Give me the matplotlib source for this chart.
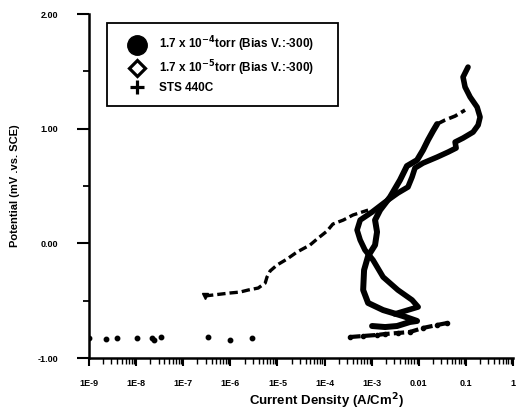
import matplotlib
matplotlib.use("Agg")
import matplotlib.pyplot as plt
from matplotlib.lines import Line2D
from matplotlib.ticker import FixedLocator, NullFormatter

plt.rcParams['font.family'] = ['Liberation Sans', 'DejaVu Sans']
plt.rcParams['font.weight'] = 'bold'

# ---- data: current density (A/cm^2) vs potential ----
# 1.7e-4 torr (Bias V.: -300)
a_cur = [1.02e-3, 1.93e-3, 3.46e-3, 6.5e-3, 9.2e-3, 4.6e-3, 1.75e-3, 8.4e-4, 6.6e-4, 6.9e-4,
         8.4e-4, 1.18e-3, 1.30e-3, 1.18e-3, 1.51e-3, 2.46e-3, 4.0e-3, 5.6e-3, 9.2e-3, 1.23e-2,
         1.57e-2, 2.0e-2, 2.45e-2, 3.6e-2, 5.9e-2, 9.6e-2]
a_pot = [-0.721, -0.730, -0.721, -0.686, -0.677, -0.634, -0.582, -0.520, -0.407, -0.233,
         -0.111, -0.015, 0.099, 0.203, 0.290, 0.404, 0.552, 0.674, 0.726, 0.813,
         0.901, 0.979, 1.040, 1.075, 1.110, 1.162]

# 1.7e-5 torr (Bias V.: -300)
b_cur = [3.1e-3, 9.7e-3, 7.2e-3, 3.6e-3, 1.75e-3, 1.07e-3, 7.2e-4, 5.7e-4, 4.9e-4, 5.7e-4,
         1.02e-3, 1.93e-3, 3.6e-3, 5.9e-3, 7.2e-3, 8.3e-3, 1.23e-2, 2.45e-2, 4.2e-2, 6.2e-2,
         5.9e-2, 8.7e-2, 0.142, 0.182, 0.200, 0.173, 0.123, 9.6e-2, 8.7e-2, 0.111]
b_pot = [-0.616, -0.555, -0.494, -0.407, -0.294, -0.146, -0.058, 0.029, 0.116, 0.203,
         0.273, 0.360, 0.439, 0.491, 0.578, 0.657, 0.700, 0.752, 0.796, 0.831,
         0.883, 0.918, 0.970, 1.031, 1.101, 1.188, 1.276, 1.363, 1.450, 1.537]

# STS 440C
sts_cur = [2.9e-7, 9.9e-7, 1.6e-6, 2.4e-6, 3.9e-6, 5.5e-6, 6.0e-6, 7.0e-6, 9.8e-6, 1.6e-5,
           2.6e-5, 4.9e-5, 6.9e-5, 1.13e-4, 1.5e-4, 2.5e-4, 4.0e-4, 8.4e-4]
sts_pot = [-0.459, -0.433, -0.425, -0.407, -0.390, -0.346, -0.294, -0.241, -0.189, -0.137,
           -0.076, -0.015, 0.037, 0.107, 0.168, 0.203, 0.247, 0.290]

# low-potential points (scattered row)
low_cur = [1.0e-9, 2.3e-9, 3.9e-9, 1.05e-8, 2.2e-8, 2.4e-8, 3.4e-8, 3.4e-7, 9.8e-7, 2.9e-6]
low_pot = [-0.826, -0.834, -0.826, -0.826, -0.826, -0.843, -0.817, -0.817, -0.843, -0.826]
low2_cur = [3.5e-4, 6.6e-4, 1.3e-3, 1.9e-3, 3.6e-3, 6.5e-3, 1.23e-2, 2.45e-2, 4.0e-2]
low2_pot = [-0.817, -0.808, -0.799, -0.791, -0.782, -0.773, -0.738, -0.712, -0.695]

x_ticks = [1e-9, 1e-8, 1e-7, 1e-6, 1e-5, 1e-4, 1e-3, 1e-2, 1e-1, 1]
x_labels = ['1E-9', '1E-8', '1E-7', '1E-6', '1E-5', '1E-4', '1E-3', '0.01', '0.1', '1']
y_ticks = [2.0, 1.0, 0.0, -1.0]
y_labels = ['2.00', '1.00', '0.00', '-1.00']
y_minor = [1.5, 0.5, -0.5]

legend_labels = ['1.7 x 10$^{-4}$torr (Bias V.:-300)',
                 '1.7 x 10$^{-5}$torr (Bias V.:-300)',
                 'STS 440C']

fig = plt.figure(figsize=(5.16, 4.13), dpi=100)
ax = fig.add_axes([89/516, 1-358/413, 424/516, 344/413])

ax.plot(a_cur[:-3], a_pot[:-3], color='black', lw=4.3, solid_joinstyle='round',
        solid_capstyle='round')
ax.plot(a_cur[-4:], a_pot[-4:], color='black', lw=2.6, linestyle=(0, (2.5, 1.2)))
ax.plot(b_cur, b_pot, color='black', lw=4.0, solid_joinstyle='round', solid_capstyle='round')
ax.plot(sts_cur, sts_pot, color='black', lw=2.4, linestyle=(0, (2.5, 1.2)))
ax.plot(sts_cur[:1], sts_pot[:1], 'v', color='black', ms=4)
ax.plot(low_cur, low_pot, 'o', color='black', ms=3.2)
ax.plot(low2_cur, low2_pot, color='black', lw=3.0, linestyle=(0, (2.5, 1.0)),
        marker='o', ms=3)

ax.set_xscale('log')
ax.set_xlim(1e-9, 1)
ax.set_ylim(-1.0, 2.0)

ax.xaxis.set_major_locator(FixedLocator(x_ticks))
ax.set_xticklabels(x_labels)
ax.yaxis.set_major_locator(FixedLocator(y_ticks))
ax.set_yticklabels(y_labels)
ax.yaxis.set_minor_locator(FixedLocator(y_minor))
ax.yaxis.set_minor_formatter(NullFormatter())
ax.xaxis.set_minor_formatter(NullFormatter())

for s in ['top', 'right']:
    ax.spines[s].set_visible(False)
for s in ['left', 'bottom']:
    ax.spines[s].set_linewidth(1.8)

ax.tick_params(axis='y', which='major', direction='out', length=9, width=1.5,
               labelsize=6.5, pad=13)
ax.tick_params(axis='y', which='minor', direction='out', length=4, width=1.3)
ax.tick_params(axis='x', which='major', direction='out', length=6, width=1.5,
               labelsize=6.5, pad=9)
ax.tick_params(axis='x', which='minor', direction='out', length=4, width=1.0)
for lab in ax.get_xticklabels() + ax.get_yticklabels():
    lab.set_fontweight('bold')

ax.set_xlabel('Current Density (A/Cm$^2$)', fontsize=9.5, fontweight='bold')
ax.xaxis.set_label_coords(0.561, -0.098)
ax.set_ylabel('Potential (mV .vs. SCE)', fontsize=8, fontweight='bold')
ax.yaxis.set_label_coords(-0.163, 0.5)

handles = [
    Line2D([], [], marker='o', color='black', ls='none', ms=14),
    Line2D([], [], marker='D', markerfacecolor='white', markeredgecolor='black',
           mew=2.3, ls='none', ms=8.5),
    Line2D([], [], marker='+', color='black', ls='none', ms=10, mew=2.3),
]
leg = ax.legend(handles, legend_labels, loc='upper left',
                bbox_to_anchor=(0.0425, 0.974, 0.545, 0.0), mode='expand',
                borderaxespad=0.0,
                frameon=True, fancybox=False, edgecolor='black', framealpha=1,
                prop={'weight': 'bold', 'size': 8.5}, handletextpad=0.42,
                labelspacing=0.35, borderpad=1.0, handlelength=3.0)
leg.get_frame().set_linewidth(1.3)

fig.savefig('out.png', dpi=100)
